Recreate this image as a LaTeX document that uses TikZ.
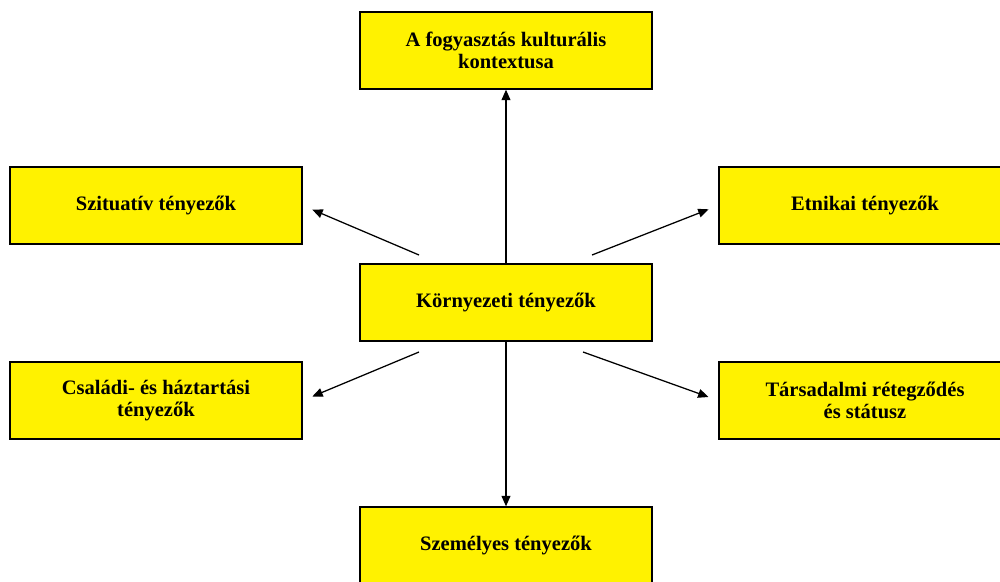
\documentclass[tikz,border=0pt]{standalone}
\usepackage{fontspec}
\setmainfont{Liberation Serif}
\usepackage{tikz}
\usetikzlibrary{arrows.meta}

\begin{document}
\begin{tikzpicture}[
  x=0.025cm, y=-0.025cm,
  every node/.style={font=\bfseries\fontsize{14.6}{15.8}\selectfont, align=center},
  factor/.style={draw, line width=0.9pt, fill=yellow, minimum width=7.3cm,
                 minimum height=1.925cm, inner sep=2pt},
  arr/.style={-{Triangle[length=0.26cm, width=0.22cm]}, line width=0.9pt},
]
  \useasboundingbox (0,0) rectangle (1000,581);

  \node[factor] (kultura) at (506, 50.5) {A fogyasztás kulturális\\kontextusa};
  \node[factor] (szituativ) at (156, 205.5) {Szituatív tényezők};
  \node[factor] (etnikai) at (865, 205.5) {Etnikai tényezők};
  \node[factor] (kornyezet) at (506, 302.5) {Környezeti tényezők};
  \node[factor] (csaladi) at (156, 400.5) {Családi- és háztartási\\tényezők};
  \node[factor] (tarsadalmi) at (865, 400.5) {Társadalmi rétegződés\\és státusz};
  \node[factor] (szemelyes) at (506, 545.5) {Személyes tényezők};

  \coordinate (fbal) at (419, 255);
  \coordinate (fjobb) at (592, 255);
  \coordinate (abal) at (419, 352);
  \coordinate (ajobb) at (583, 352);

  \draw[arr] (kornyezet.north) -- (kultura.south);
  \draw[arr] (kornyezet.south) -- (szemelyes.north);
  \foreach \s/\t in {fbal/szituativ.east, fjobb/etnikai.west,
                     abal/csaladi.east, ajobb/tarsadalmi.west}
    \draw[arr, shorten >=0.26cm] (\s) -- (\t);
\end{tikzpicture}
\end{document}
